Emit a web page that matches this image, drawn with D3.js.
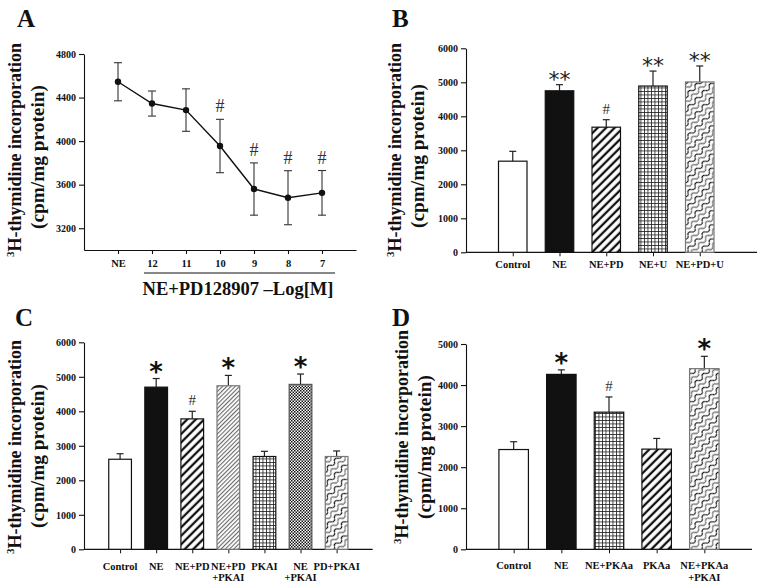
<!DOCTYPE html>
<html><head><meta charset="utf-8">
<script src="https://cdn.jsdelivr.net/npm/d3@7"></script>
<style>body{margin:0;background:#fff} svg{display:block;background:#fff}</style>
</head><body><svg id="c" width="760" height="588"></svg>
<script>
// ---------- Panel A ----------
const aCategories = ["NE", "12", "11", "10", "9", "8", "7"];
const aValues = [4545, 4345, 4285, 3955, 3560, 3480, 3525];
const aErrors = [175, 115, 195, 245, 240, 248, 205];
const aMarks = ["", "", "", "#", "#", "#", "#"];
const aTicks = [3200, 3600, 4000, 4400, 4800];
const aXTitle = "NE+PD128907 \u2013Log[M]";

// ---------- Panel B ----------
const bCategories = [["Control"], ["NE"], ["NE+PD"], ["NE+U"], ["NE+PD+U"]];
const bValues = [2680, 4750, 3680, 4890, 5010];
const bErrors = [290, 180, 220, 440, 470];
const bMarks = ["", "**", "#", "**", "**"];
const bFills = ["white", "black", "stripe", "grid", "scale"];
const bTicks = [0, 1000, 2000, 3000, 4000, 5000, 6000];

// ---------- Panel C ----------
const cCategories = [["Control"], ["NE"], ["NE+PD"], ["NE+PD", "+PKAI"], ["PKAI"], ["NE", "+PKAI"], ["PD+PKAI"]];
const cValues = [2610, 4700, 3780, 4740, 2690, 4780, 2690];
const cErrors = [160, 250, 220, 300, 150, 300, 160];
const cMarks = ["", "*", "#", "*", "", "*", ""];
const cFills = ["white", "black", "stripe", "fine", "grid", "checker", "scale"];
const cTicks = [0, 1000, 2000, 3000, 4000, 5000, 6000];

// ---------- Panel D ----------
const dCategories = [["Control"], ["NE"], ["NE+PKAa"], ["PKAa"], ["NE+PKAa", "+PKAI"]];
const dValues = [2430, 4260, 3340, 2440, 4400];
const dErrors = [190, 110, 370, 260, 300];
const dMarks = ["", "*", "#", "", "*"];
const dFills = ["white", "black", "grid", "stripe", "scale"];
const dTicks = [0, 1000, 2000, 3000, 4000, 5000];

const yTitle1 = "H-thymidine incorporation";
const yTitle2 = "(cpm/mg protein)";

const SERIF = "'Liberation Serif','Times New Roman',serif";
const svg = d3.select("#c");
svg.append("rect").attr("width", 760).attr("height", 588).attr("fill", "#fff");

// ---------- patterns ----------
const defs = svg.append("defs");
function pat(id, w, h, rot) {
  const p = defs.append("pattern").attr("id", id).attr("patternUnits", "userSpaceOnUse")
    .attr("width", w).attr("height", h);
  if (rot) p.attr("patternTransform", `rotate(${rot})`);
  p.append("rect").attr("width", w).attr("height", h).attr("fill", "#fff");
  return p;
}
let p = pat("stripe", 6, 6, 45);
p.append("rect").attr("x", 1.8).attr("y", 0).attr("width", 2.3).attr("height", 6).attr("fill", "#111");
p = pat("fine", 3, 3, 45);
p.append("rect").attr("x", 1).attr("y", 0).attr("width", 1.1).attr("height", 3).attr("fill", "#6a6a6a");
p = pat("grid", 3.5, 3.5, 0);
p.append("path").attr("d", "M0,0.4H3.5M0.4,0V3.5").attr("stroke", "#222").attr("stroke-width", 0.85).attr("fill", "none");
p = pat("checker", 3, 3, 0);
p.append("rect").attr("x", 0).attr("y", 0).attr("width", 1.5).attr("height", 1.5).attr("fill", "#111");
p.append("rect").attr("x", 1.5).attr("y", 1.5).attr("width", 1.5).attr("height", 1.5).attr("fill", "#111");
p = pat("scale", 10, 10, -45);
p.append("path").attr("d", "M0,3 Q2.5,-0.5 5,3 T10,3").attr("stroke", "#000").attr("stroke-width", 1.1).attr("fill", "none");
p.append("path").attr("d", "M0,8 Q2.5,4.5 5,8 T10,8").attr("stroke", "#777").attr("stroke-width", 1.3).attr("fill", "none");

const fillOf = f => f === "white" ? "#fff" : f === "black" ? "#111" : `url(#${f})`;
const strokeOf = f => (f === "scale" || f === "fine") ? "#777" : (f === "checker" ? "#555" : "#111");

// ---------- helpers ----------
function panelLetter(t, x, y) {
  svg.append("text").attr("x", x).attr("y", y).text(t)
    .attr("font-family", SERIF).attr("font-weight", "bold").attr("font-size", 25).attr("fill", "#111");
}
function yTitle(x1, c1, x2, c2) {
  const t = svg.append("text").attr("transform", `translate(${x1},${c1}) rotate(-90)`)
    .attr("text-anchor", "middle").attr("font-family", SERIF).attr("font-weight", "bold")
    .attr("font-size", 18).attr("fill", "#111")
    .attr("textLength", 214).attr("lengthAdjust", "spacingAndGlyphs");
  t.append("tspan").attr("font-size", 11).attr("dy", -7).text("3");
  t.append("tspan").attr("dy", 7).text(yTitle1);
  svg.append("text").attr("transform", `translate(${x2},${c2}) rotate(-90)`)
    .attr("text-anchor", "middle").attr("font-family", SERIF).attr("font-weight", "bold")
    .attr("font-size", 18).attr("fill", "#111")
    .attr("textLength", 144).attr("lengthAdjust", "spacingAndGlyphs").text(yTitle2);
}
function yAxis(y, ticks, x0) {
  const g = svg.append("g").attr("transform", `translate(${x0},0)`)
    .call(d3.axisLeft(y).tickValues(ticks).tickSize(5).tickSizeOuter(0).tickPadding(3).tickFormat(d3.format("d")));
  g.selectAll("text").attr("font-family", SERIF).attr("font-weight", "bold").attr("font-size", 10).attr("fill", "#111");
  g.selectAll("line,path").attr("stroke", "#111").attr("stroke-width", 1.1);
  return g;
}
function markText(mark, cx, top) {
  if (!mark) return;
  if (mark === "#") {
    svg.append("text").attr("x", cx).attr("y", top - 6).attr("text-anchor", "middle")
      .attr("font-family", SERIF).attr("font-size", 15).attr("fill", "#333").text("#");
  } else if (mark === "**") {
    svg.append("text").attr("x", cx).attr("y", top + 2).attr("text-anchor", "middle")
      .attr("font-family", "'DejaVu Sans',sans-serif").attr("font-size", 22).attr("letter-spacing", 0)
      .attr("fill", "#222").text("**");
  } else {
    svg.append("text").attr("x", cx).attr("y", top + 2).attr("text-anchor", "middle")
      .attr("font-family", "'DejaVu Sans',sans-serif").attr("font-weight", "bold").attr("font-size", 26)
      .attr("fill", "#111").text("*");
  }
}

function barPanel(o) {
  const x = d3.scalePoint().domain(o.cats.map(c => c.join(" "))).range(o.xr).padding(1);
  const y = d3.scaleLinear().domain([0, o.ymax]).range(o.yr);
  yAxis(y, o.ticks, o.xr[0]);
  const xa = svg.append("g").attr("transform", `translate(0,${o.yr[0]})`)
    .call(d3.axisBottom(x).tickSize(4).tickSizeOuter(0).tickFormat(""));
  xa.select("path").remove();
  xa.selectAll("line").attr("stroke", "#111");
  svg.append("line").attr("x1", o.xr[0]).attr("x2", o.xEnd).attr("y1", o.yr[0]).attr("y2", o.yr[0])
    .attr("stroke", "#111").attr("stroke-width", 1.2);
  o.cats.forEach((c, i) => {
    const cx = x(c.join(" "));
    const v = o.vals[i], e = o.errs[i];
    svg.append("line").attr("x1", cx).attr("x2", cx).attr("y1", y(v)).attr("y2", y(v + e))
      .attr("stroke", "#222").attr("stroke-width", 1.2);
    svg.append("line").attr("x1", cx - 3.5).attr("x2", cx + 3.5).attr("y1", y(v + e)).attr("y2", y(v + e))
      .attr("stroke", "#222").attr("stroke-width", 1.2);
    svg.append("rect").attr("x", cx - o.bw / 2).attr("y", y(v)).attr("width", o.bw).attr("height", y(0) - y(v))
      .attr("fill", fillOf(o.fills[i])).attr("stroke", strokeOf(o.fills[i])).attr("stroke-width", 1.2);
    markText(o.marks[i], cx, y(v + e));
    c.forEach((line, j) => {
      svg.append("text").attr("x", cx).attr("y", o.ly + j * 11.5).attr("text-anchor", "middle")
        .attr("font-family", SERIF).attr("font-weight", "bold").attr("font-size", 10.5).attr("fill", "#111").text(line);
    });
  });
}

// ---------- Panel A ----------
(function () {
  const x = d3.scalePoint().domain(aCategories).range([84, 356]).padding(1);
  const y = d3.scaleLinear().domain([3000, 4800]).range([250, 54]);
  yAxis(y, aTicks, 84);
  const xa = svg.append("g").attr("transform", "translate(0,250)")
    .call(d3.axisBottom(x).tickSize(4).tickSizeOuter(0).tickPadding(6));
  xa.selectAll("text").attr("font-family", SERIF).attr("font-weight", "bold").attr("font-size", 10.5).attr("fill", "#111");
  xa.selectAll("line,path").attr("stroke", "#111").attr("stroke-width", 1.1);
  const data = aCategories.map((c, i) => ({ c, v: aValues[i], e: aErrors[i], m: aMarks[i] }));
  data.forEach(d => {
    const cx = x(d.c);
    svg.append("line").attr("x1", cx).attr("x2", cx).attr("y1", y(d.v - d.e)).attr("y2", y(d.v + d.e))
      .attr("stroke", "#333").attr("stroke-width", 1.1);
    [d.v - d.e, d.v + d.e].forEach(t => svg.append("line").attr("x1", cx - 4).attr("x2", cx + 4)
      .attr("y1", y(t)).attr("y2", y(t)).attr("stroke", "#333").attr("stroke-width", 1.1));
    if (d.m) svg.append("text").attr("x", cx).attr("y", y(d.v + d.e) - 7).attr("text-anchor", "middle")
      .attr("font-family", SERIF).attr("font-size", 18).attr("fill", "#333").text(d.m);
  });
  svg.append("path").datum(data).attr("fill", "none").attr("stroke", "#111").attr("stroke-width", 1.4)
    .attr("d", d3.line().x(d => x(d.c)).y(d => y(d.v)));
  svg.selectAll(".pt").data(data).enter().append("circle").attr("cx", d => x(d.c)).attr("cy", d => y(d.v))
    .attr("r", 3.2).attr("fill", "#111");
  svg.append("line").attr("x1", 144).attr("x2", 335).attr("y1", 273).attr("y2", 273).attr("stroke", "#111").attr("stroke-width", 1.2);
  svg.append("text").attr("x", 238).attr("y", 295).attr("text-anchor", "middle").attr("font-family", SERIF)
    .attr("font-weight", "bold").attr("font-size", 18.5).attr("fill", "#111").text(aXTitle);
})();
panelLetter("A", 17, 27);
yTitle(20.5, 150, 43.5, 157);

// ---------- Panel B ----------
barPanel({ cats: bCategories, vals: bValues, errs: bErrors, marks: bMarks, fills: bFills, ticks: bTicks,
  ymax: 6000, xr: [466, 746.5], yr: [252.3, 48.3], xEnd: 757, bw: 28.5, ly: 268 });
panelLetter("B", 392, 27);
yTitle(401, 150, 424, 156);

// ---------- Panel C ----------
barPanel({ cats: cCategories, vals: cValues, errs: cErrors, marks: cMarks, fills: cFills, ticks: cTicks,
  ymax: 6000, xr: [84, 372.7], yr: [549.3, 342.3], xEnd: 372.7, bw: 22.7, ly: 569.5 });
panelLetter("C", 15, 326);
yTitle(20.5, 447, 44, 456);

// ---------- Panel D ----------
barPanel({ cats: dCategories, vals: dValues, errs: dErrors, marks: dMarks, fills: dFills, ticks: dTicks,
  ymax: 5000, xr: [466, 752], yr: [549.3, 344], xEnd: 752, bw: 29.5, ly: 569 });
panelLetter("D", 392, 326);
yTitle(408, 437, 431, 447);
</script></body></html>
